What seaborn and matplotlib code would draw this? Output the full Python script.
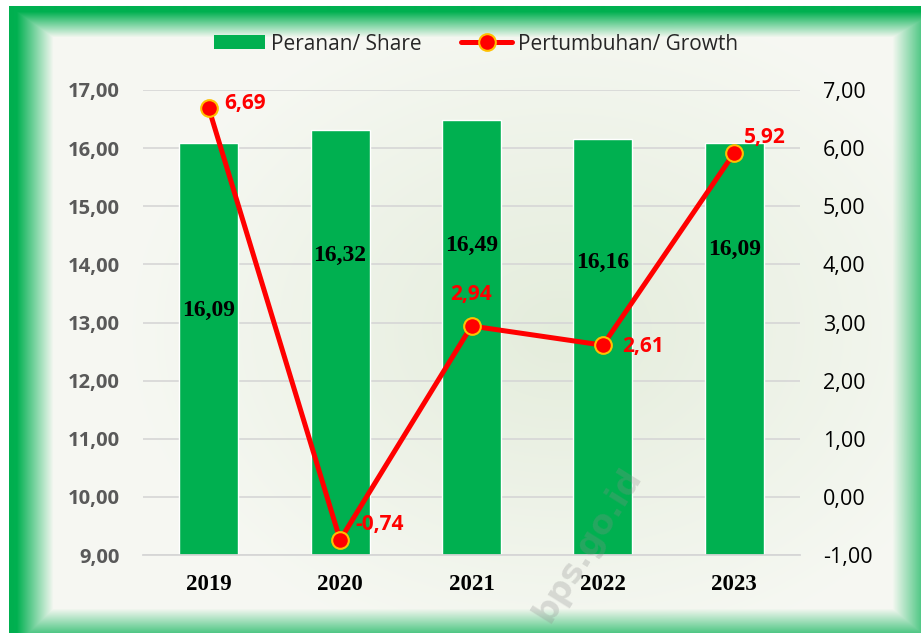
import numpy as np
import matplotlib
matplotlib.use("Agg")
import matplotlib.pyplot as plt
import seaborn as sns
from matplotlib.patches import Patch
from matplotlib.lines import Line2D

# data
years = ["2019", "2020", "2021", "2022", "2023"]
share = [16.09, 16.32, 16.49, 16.16, 16.09]
growth = [6.69, -0.74, 2.94, 2.61, 5.92]
share_label_y = [13.21, 14.16, 14.33, 14.04, 14.25]  # where excel put the bar labels
growth_offsets = [(11, 3, "left"), (11, 11, "left"), (0, 23, "center"), (14, -1, "left"), (7, 11, "left")]
left_ticks = [9, 10, 11, 12, 13, 14, 15, 16, 17]
right_ticks = [-1, 0, 1, 2, 3, 4, 5, 6, 7]

GREEN = "#00B050"
RED = "#FF0000"
SANS = ["Open Sans", "DejaVu Sans"]
SERIF = ["Liberation Serif", "DejaVu Serif"]


def comma(v):
    return f"{v:.2f}".replace(".", ",")


sns.set_style("white")
plt.rcParams["font.family"] = SANS

fig = plt.figure(figsize=(9.21, 6.33), dpi=100)

# background: soft green bevel frame + light radial fill
H, W = 633, 921
yy, xx = np.mgrid[0:H, 0:W].astype(float)
inner = np.array([0.965, 0.972, 0.950])
mid = np.array([0.895, 0.928, 0.862])
r = np.clip(np.hypot((xx - 560) / 430, (yy - 330) / 330), 0, 1)[..., None]
img = mid * (1 - r) + inner * r
g_left = np.clip(1.2 * (1 - (xx - 9) / 44), 0, 1)
g_top = np.clip(1.2 * (1 - (yy - 6) / 31), 0, 1)
g_right = np.clip(1 - (934 - xx) / 43, 0, 1)
g_bot = np.clip(1 - (644 - yy) / 36, 0, 1)
g = np.maximum.reduce([g_left, g_top, g_right, g_bot])[..., None]
green_rgb = np.array([0, 176, 80]) / 255
img = img * (1 - g) + green_rgb * g
img[(xx < 9) | (yy < 6)] = 1.0
bg = fig.add_axes([0, 0, 1, 1], zorder=-1)
bg.imshow(img, aspect="auto", interpolation="bilinear")
bg.axis("off")

ax = fig.add_axes([143 / 921, 1 - 555 / 633, 657 / 921, 465 / 633])
ax.set_facecolor("none")

sns.barplot(x=years, y=share, color=GREEN, saturation=1, width=0.45, ax=ax)
ax.set_ylim(9, 17)
ax.set_yticks(left_ticks)
ax.set_yticklabels([comma(v) for v in left_ticks], fontsize=14.5, fontweight="bold", color="#595959")
ax.tick_params(axis="y", length=0, pad=17)
ax.tick_params(axis="x", length=0, pad=14)
for lab in ax.get_xticklabels():
    lab.set_fontfamily(SERIF)
    lab.set_fontweight("bold")
    lab.set_fontsize(16.5)
    lab.set_color("black")
ax.yaxis.grid(True, color="#D6D6D6", lw=1.2)
ax.set_axisbelow(True)
for s in ["top", "left", "right"]:
    ax.spines[s].set_visible(False)
ax.spines["bottom"].set_color("#D6D6D6")
ax.spines["bottom"].set_linewidth(1.3)
ax.set_xlabel("")
ax.set_ylabel("")

for i, (v, ly) in enumerate(zip(share, share_label_y)):
    ax.text(i, ly, comma(v), ha="center", va="center", fontsize=17,
            fontweight="bold", family=SERIF, color="black")

ax2 = ax.twinx()
ax2.set_facecolor("none")
sns.lineplot(x=years, y=growth, sort=False, ax=ax2, color=RED, lw=3.6,
             marker="o", markersize=12, markerfacecolor=RED,
             markeredgecolor="#FFC000", markeredgewidth=1.5)
ax2.set_ylim(-1, 7)
ax2.set_yticks(right_ticks)
ax2.set_yticklabels([comma(v) for v in right_ticks], fontsize=15.5, color="black")
ax2.tick_params(axis="y", length=0, pad=16.5)
for s in ax2.spines.values():
    s.set_visible(False)
ax2.set_xlabel("")
ax2.set_ylabel("")
ax.set_xlim(-0.5, 4.5)

for i, (v, (dx, dy, ha)) in enumerate(zip(growth, growth_offsets)):
    ax2.annotate(comma(v), (i, v), xytext=(dx, dy), textcoords="offset points",
                 ha=ha, va="center", fontsize=15, fontweight="bold", color=RED)

handles = [
    Patch(facecolor=GREEN, edgecolor="none"),
    Line2D([], [], color=RED, lw=3.6, marker="o", markersize=12,
           markerfacecolor=RED, markeredgecolor="#FFC000", markeredgewidth=1.5),
]
fig.legend(handles, ["Peranan/ Share", "Pertumbuhan/ Growth"], loc="center",
           bbox_to_anchor=(476 / 921, 1 - 44 / 633), ncol=2, frameon=False,
           fontsize=15, handlelength=2.45, handleheight=0.62,
           handletextpad=0.3, columnspacing=1.9)

# faint watermark
fig.text(588 / 921, 1 - 545 / 633, "bps.go.id", rotation=58, fontsize=24,
         fontweight="bold", color="#8c8c8c", alpha=0.28, ha="center", va="center",
         family=["DejaVu Sans"])

fig.savefig("out.png", dpi=100)
